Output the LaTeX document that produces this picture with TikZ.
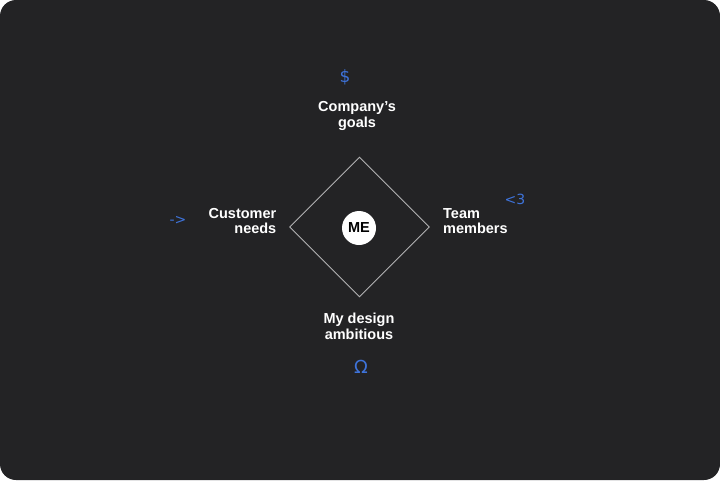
\documentclass[tikz,border=0pt]{standalone}
\usepackage{fontspec}
\setmainfont{Liberation Sans}
\newfontfamily\doodle{DejaVu Sans}
\usetikzlibrary{shapes.geometric}
\definecolor{board}{HTML}{232325}
\definecolor{ink}{HTML}{3E73DA}
\tikzset{
	label/.style={text=white, font=\fontsize{14.5}{15.5}\selectfont\bfseries, inner sep=0pt},
	scribble/.style={text=ink, font=\doodle\fontsize{14}{14}\selectfont, inner sep=0pt},
}

\begin{document}
\begin{tikzpicture}[x=1pt, y=-1pt]
		%%%%% START %%%%%
		
		\useasboundingbox[fill=white] (0, 0) rectangle (720, 480);
		\fill[board, rounded corners=16pt] (0, 0) rectangle (720, 480);
		
		\node[draw=white!65!board, line width=0.3mm, shape=diamond, minimum size=140pt, inner sep=0pt] (frame) at (359.5, 227) {};
		\node[circle, fill=white, minimum size=34pt, inner sep=0pt, font=\fontsize{14.5}{14.5}\selectfont\bfseries] (me) at (359, 228) {ME};
		
		\node[label, align=center] (goals) at (357, 116) {Company’s\\goals};
		\node[label, align=right, anchor=east] (customer) at (276.5, 221) {Customer\\needs};
		\node[label, align=left, anchor=west] (team) at (443, 221) {Team\\members};
		\node[label, align=center] (ambition) at (359, 326.5) {My design\\ambitious};
		
		\node[scribble, font=\doodle\fontsize{17}{17}\selectfont] (dollar) at (345, 77) {\$};
		\node[scribble] (arrow) at (178, 220) {->};
		\node[scribble] (heart) at (515, 199) {<3};
		\node[scribble, font=\doodle\fontsize{18}{18}\selectfont] (omega) at (361, 367) {Ω};
		
		%%%%% END %%%%%
	\end{tikzpicture}
\end{document}
